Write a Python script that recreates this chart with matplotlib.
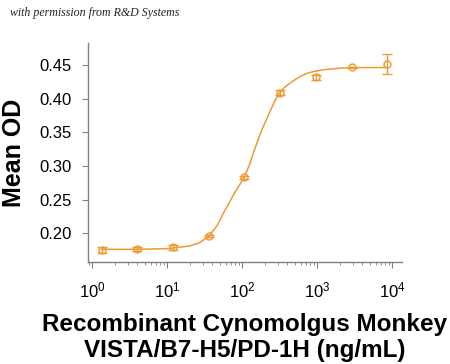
import matplotlib
matplotlib.use("Agg")
import matplotlib.pyplot as plt
from matplotlib.ticker import LogLocator, NullFormatter

plt.rcParams['font.family'] = ['Liberation Sans', 'DejaVu Sans']
plt.rcParams['mathtext.fontset'] = 'custom'
plt.rcParams['mathtext.rm'] = 'Liberation Sans'
plt.rcParams['mathtext.it'] = 'Liberation Sans:italic'
plt.rcParams['mathtext.bf'] = 'Liberation Sans:bold'

# measured points (ng/mL, mean OD, error)
conc = [1.33, 4.0, 12.0, 36.0, 106, 318, 958, 2875, 8500]
od = [0.175, 0.176, 0.179, 0.196, 0.283, 0.409, 0.432, 0.4465, 0.4515]
err = [0.005, 0.003, 0.004, 0.002, 0.002, 0.004, 0.004, 0.001, 0.0153]

# fitted curve
curve_x = [1.33, 4.0, 10, 20, 27, 35.5, 46, 56, 66, 76, 90, 106, 125, 140, 160,
           182, 208, 234, 270, 311, 365, 433, 500, 588, 700, 885, 1200, 1476, 2000,
           2812, 5000, 8414]
curve_y = [0.176, 0.176, 0.177, 0.181, 0.186, 0.195, 0.211, 0.2298, 0.244, 0.257,
           0.270, 0.2833, 0.302, 0.319, 0.337, 0.3537, 0.368, 0.381, 0.396, 0.4083,
           0.417, 0.4232, 0.428, 0.433, 0.437, 0.4405, 0.443, 0.444, 0.4455, 0.4464,
           0.4464, 0.4464]

orange = '#EE9A2E'

fig = plt.figure(figsize=(4.5, 3.64), dpi=100)
ax = fig.add_axes([0.1956, 0.280, 0.697, 0.602])

ax.plot(curve_x, curve_y, color=orange, lw=1.1)
ax.errorbar(conc, od, yerr=err, fmt='o', mfc='none', mec=orange, ms=5, mew=1,
            ecolor=orange, elinewidth=1, capsize=3.5, capthick=1)

ax.set_xscale('log')
ax.set_xlim(10 ** -0.057, 10 ** 4.125)
ax.set_ylim(0.157, 0.483)
ax.set_yticks([0.20, 0.25, 0.30, 0.35, 0.40, 0.45])
ax.set_yticklabels(['0.20', '0.25', '0.30', '0.35', '0.40', '0.45'])
ax.xaxis.set_major_locator(LogLocator(base=10, numticks=10))
ax.xaxis.set_minor_locator(LogLocator(base=10, subs=range(2, 10), numticks=50))
ax.xaxis.set_minor_formatter(NullFormatter())

for s in ['top', 'right']:
    ax.spines[s].set_visible(False)
for s in ['left', 'bottom']:
    ax.spines[s].set_color('#808080')
    ax.spines[s].set_linewidth(1)
ax.tick_params(axis='both', which='major', colors='#808080', labelcolor='black',
               labelsize=12, length=4, direction='out')
ax.tick_params(axis='x', which='major', pad=9)
ax.tick_params(axis='y', which='major', pad=8)
ax.tick_params(axis='x', which='minor', colors='#808080', length=2.5)

ax.set_xlabel('Recombinant Cynomolgus Monkey\nVISTA/B7-H5/PD-1H (ng/mL)',
              fontsize=17.5, fontweight='bold', labelpad=9, linespacing=1.2)
ax.set_ylabel('Mean OD', fontsize=18, fontweight='bold', labelpad=9)

fig.text(0.022, 0.955, 'with permission from R&D Systems', fontsize=8.6,
         style='italic', family=['Liberation Serif', 'DejaVu Serif'], color='#222222')

fig.savefig('out.png', dpi=100)
